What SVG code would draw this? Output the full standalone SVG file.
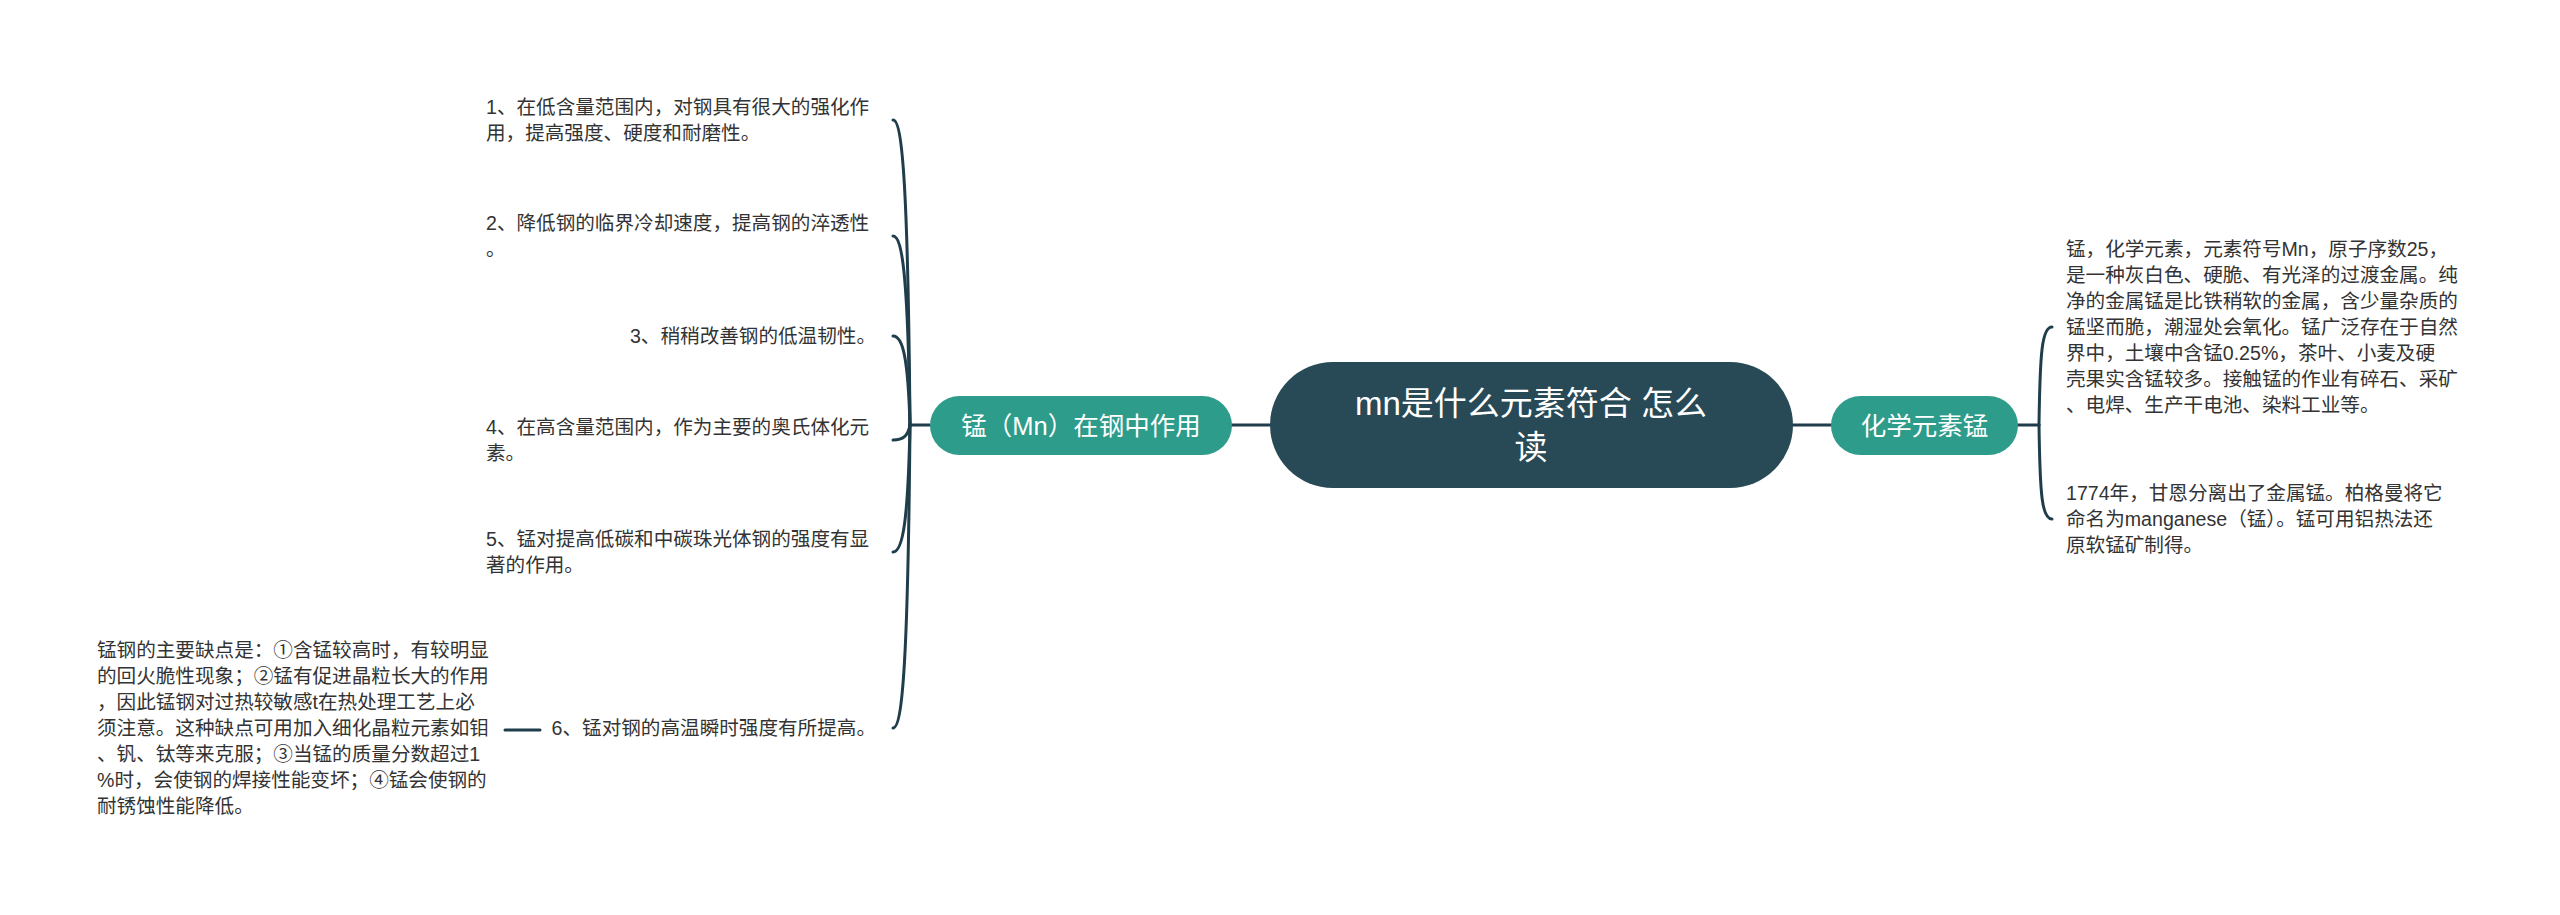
<svg xmlns="http://www.w3.org/2000/svg" width="2560" height="915" viewBox="0 0 2560 915">
<style>
.t{font-family:"Liberation Sans","Noto Sans CJK SC",sans-serif;font-size:19.6px;fill:#333333;dominant-baseline:central}
.e{text-anchor:end}
.nt{font-family:"Liberation Sans","Noto Sans CJK SC",sans-serif;fill:#ffffff;text-anchor:middle;dominant-baseline:central}
.ln{fill:none;stroke:#1f3d4b;stroke-width:3;stroke-linecap:round}
.g{fill:#2e9c8a}
</style>
<rect width="2560" height="915" fill="#ffffff"/>
<g id="connectors">
<path class="ln" d="M1231,425 L1270,425"/>
<path class="ln" d="M1793,425 L1832,425"/>
<path class="ln" d="M910,425 L930,425"/>
<path class="ln" d="M2018,425 L2039,425"/>
<path class="ln" d="M893,120 C903,120 908,196 910,425"/>
<path class="ln" d="M893,236 C903,236 908,283 910,425"/>
<path class="ln" d="M893,336 C903,336 908,358 910,425"/>
<path class="ln" d="M893,440 C903,440 908,436 910,425"/>
<path class="ln" d="M893,552 C903,552 908,520 910,425"/>
<path class="ln" d="M893,728 C903,728 908,652 910,425"/>
<path class="ln" d="M2052,327 C2042,327 2040,352 2039,425"/>
<path class="ln" d="M2052,519 C2042,519 2040,496 2039,425"/>
<path class="ln" d="M505,730 L540,730"/>
</g>
<g id="root">
<rect x="1270" y="362" width="523" height="126" rx="63" fill="#284a57"/>
<text class="nt" x="1531" y="403" font-size="33">mn是什么元素符合 怎么</text>
<text class="nt" x="1531" y="447" font-size="33">读</text>
</g>
<g id="node-left">
<rect class="g" x="930" y="396" width="302" height="59" rx="29.5"/>
<text class="nt" x="1081" y="425.5" font-size="25.5">锰（Mn）在钢中作用</text>
</g>
<g id="node-right">
<rect class="g" x="1831" y="396" width="187" height="59" rx="29.5"/>
<text class="nt" x="1924.5" y="425.5" font-size="25.5">化学元素锰</text>
</g>
<g id="item1">
<text class="t" x="486" y="107">1、在低含量范围内，对钢具有很大的强化作</text>
<text class="t" x="486" y="133">用，提高强度、硬度和耐磨性。</text>
</g>
<g id="item2">
<text class="t" x="486" y="223">2、降低钢的临界冷却速度，提高钢的淬透性</text>
<text class="t" x="486" y="249">。</text>
</g>
<g id="item3">
<text class="t e" x="876" y="336">3、稍稍改善钢的低温韧性。</text>
</g>
<g id="item4">
<text class="t" x="486" y="427">4、在高含量范围内，作为主要的奥氏体化元</text>
<text class="t" x="486" y="453">素。</text>
</g>
<g id="item5">
<text class="t" x="486" y="539">5、锰对提高低碳和中碳珠光体钢的强度有显</text>
<text class="t" x="486" y="565">著的作用。</text>
</g>
<g id="item6">
<text class="t e" x="876" y="728">6、锰对钢的高温瞬时强度有所提高。</text>
</g>
<g id="item6-note">
<text class="t" x="97" y="650">锰钢的主要缺点是：①含锰较高时，有较明显</text>
<text class="t" x="97" y="676">的回火脆性现象；②锰有促进晶粒长大的作用</text>
<text class="t" x="97" y="702">，因此锰钢对过热较敏感t在热处理工艺上必</text>
<text class="t" x="97" y="728">须注意。这种缺点可用加入细化晶粒元素如钼</text>
<text class="t" x="97" y="754">、钒、钛等来克服；③当锰的质量分数超过1</text>
<text class="t" x="97" y="780">%时，会使钢的焊接性能变坏；④锰会使钢的</text>
<text class="t" x="97" y="806">耐锈蚀性能降低。</text>
</g>
<g id="right-text1">
<text class="t" x="2066" y="249">锰，化学元素，元素符号Mn，原子序数25，</text>
<text class="t" x="2066" y="275">是一种灰白色、硬脆、有光泽的过渡金属。纯</text>
<text class="t" x="2066" y="301">净的金属锰是比铁稍软的金属，含少量杂质的</text>
<text class="t" x="2066" y="327">锰坚而脆，潮湿处会氧化。锰广泛存在于自然</text>
<text class="t" x="2066" y="353">界中，土壤中含锰0.25%，茶叶、小麦及硬</text>
<text class="t" x="2066" y="379">壳果实含锰较多。接触锰的作业有碎石、采矿</text>
<text class="t" x="2066" y="405">、电焊、生产干电池、染料工业等。</text>
</g>
<g id="right-text2">
<text class="t" x="2066" y="493">1774年，甘恩分离出了金属锰。柏格曼将它</text>
<text class="t" x="2066" y="519">命名为manganese（锰）。锰可用铝热法还</text>
<text class="t" x="2066" y="545">原软锰矿制得。</text>
</g>
</svg>
